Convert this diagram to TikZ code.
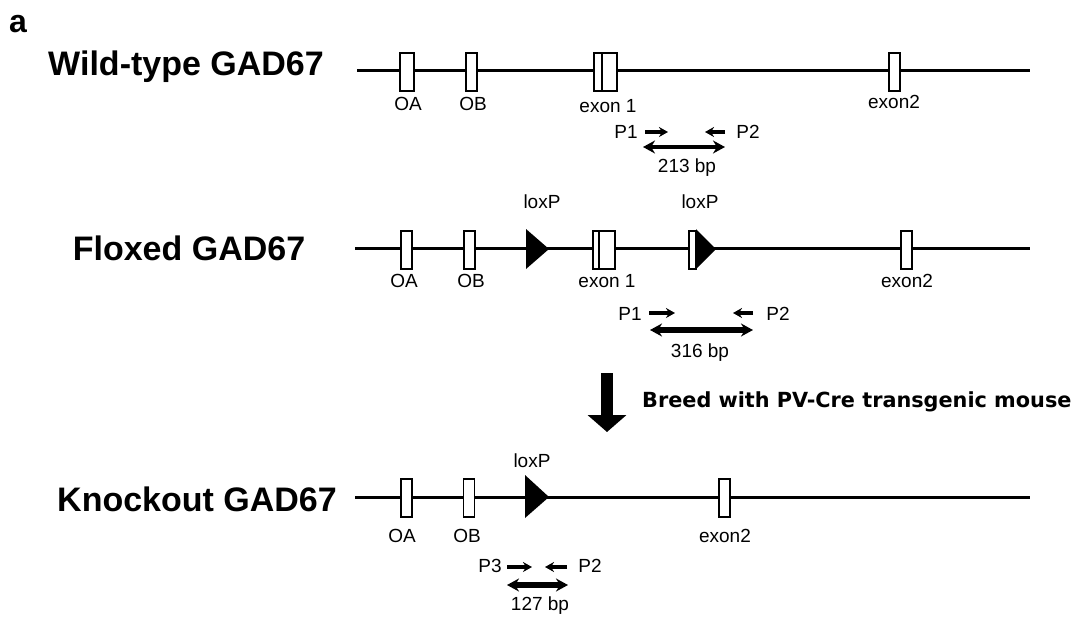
\documentclass[tikz,border=0pt]{standalone}
\usepackage{fontspec}
\setmainfont{Liberation Sans}
\newfontfamily\breedfont{DejaVu Sans}
\usepackage{tikz}
\usetikzlibrary{arrows.meta}

\begin{document}
\begin{tikzpicture}[x=1pt,y=-1pt,
  gene/.style={line width=3pt},
  exonbox/.style={draw,line width=1.8pt,fill=white,minimum height=38pt,inner sep=0pt},
  lbl/.style={font=\fontsize{19}{21}\selectfont,anchor=base,inner sep=0pt},
  title/.style={font=\fontsize{34}{38}\selectfont\bfseries,anchor=base,inner sep=0pt},
  primer/.style={-{Stealth[length=9pt,width=10pt]},line width=3.4pt},
  product/.style={{Stealth[length=12pt,width=13pt]}-{Stealth[length=12pt,width=13pt]}}]
\useasboundingbox (0,0) rectangle (1080,630);
\node[font=\fontsize{32}{36}\selectfont\bfseries,anchor=base,inner sep=0pt] (panel) at (18,32) {a};
% wild-type allele
\begin{scope}[shift={(0,70)}]
\node[title] (wtname) at (186,5) {Wild-type GAD67};
\coordinate (wtL) at (357,0); \coordinate (wtR) at (1030,0);
\draw[gene] (wtL) -- (wtR);
\foreach \n/\x/\w in {OA/407/14,OB/471.5/11.5,exA/598/8,exB/609.5/15,exII/894.5/11.5}
  \node[exonbox,minimum width=\w pt] (wt\n) at (\x,2) {};
\foreach \n/\x/\y/\t in {OA/408/40/OA,OB/473/40/OB,exA/608/42/exon 1,exII/894/38/exon2}
  \node[lbl] (wt\n-t) at (\x,\y) {\t};
% primers P1/P2, 213 bp
\node[lbl] (wtP1) at (626,68) {P1};
\node[lbl] (wtP2) at (748,68) {P2};
\coordinate (wtP1a) at (645,62); \coordinate (wtP1b) at (668,62);
\coordinate (wtP2a) at (725,62); \coordinate (wtP2b) at (705,62);
\draw[primer] (wtP1a) -- (wtP1b);
\draw[primer] (wtP2a) -- (wtP2b);
\coordinate (wtPa) at (643,77); \coordinate (wtPb) at (725,77);
\draw[product,line width=4pt] (wtPa) -- (wtPb);
\node[lbl] (wtbp) at (687,102) {213 bp};
\end{scope}
% floxed allele
\begin{scope}[shift={(0,248)}]
\node[title] (flname) at (189,12) {Floxed GAD67};
\coordinate (flL) at (355,0); \coordinate (flR) at (1030,0);
\draw[gene] (flL) -- (flR);
\foreach \n/\x/\w in {OA/406.5/11.5,OB/469.5/11.5,exA/596/6,exB/607/16,lox/692.5/7,exII/906.5/11.5}
  \node[exonbox,minimum width=\w pt] (fl\n) at (\x,2) {};
\fill (526,-19) -- (549,1) -- (526,21) -- cycle;
\fill (696,-19) -- (716,1) -- (696,21) -- cycle;
\node[lbl] (flloxA-t) at (542,-40) {loxP};
\node[lbl] (flloxB-t) at (700,-40) {loxP};
\foreach \n/\x/\t in {OA/404/OA,OB/471/OB,exA/607/exon 1,exII/907/exon2}
  \node[lbl] (fl\n-t) at (\x,39) {\t};
% primers P1/P2, 316 bp
\node[lbl] (flP1) at (630,72) {P1};
\node[lbl] (flP2) at (778,72) {P2};
\coordinate (flP1a) at (649,65); \coordinate (flP1b) at (675,65);
\coordinate (flP2a) at (753,65); \coordinate (flP2b) at (733,65);
\draw[primer] (flP1a) -- (flP1b);
\draw[primer] (flP2a) -- (flP2b);
\coordinate (flPa) at (650,82); \coordinate (flPb) at (753,82);
\draw[product,line width=6pt] (flPa) -- (flPb);
\node[lbl] (flbp) at (700,109) {316 bp};
\end{scope}
% breeding step
\coordinate (brTop) at (607,373); \coordinate (brTip) at (607,432);
\draw[line width=12pt,-{Triangle[length=17pt,width=38pt]}] (brTop) -- (brTip);
\node[anchor=base west,inner sep=0pt,font=\breedfont\bfseries\fontsize{20.8}{24}\selectfont] (breed) at (642,407) {Breed with PV-Cre transgenic mouse};
% knockout allele
\begin{scope}[shift={(0,497)}]
\node[title] (koname) at (197,14) {Knockout GAD67};
\coordinate (koL) at (355,0); \coordinate (koR) at (1030,0);
\draw[gene] (koL) -- (koR);
\foreach \n/\x/\w in {OA/406.5/11.5,OB/469/11,exII/724.5/11.5}
  \node[exonbox,minimum width=\w pt] (ko\n) at (\x,1) {};
\fill (525,-22) -- (549,0) -- (525,21) -- cycle;
\node[lbl] (kolox-t) at (532,-30) {loxP};
\foreach \n/\x/\t in {OA/402/OA,OB/467/OB,exII/725/exon2}
  \node[lbl] (ko\n-t) at (\x,45) {\t};
% primers P3/P2, 127 bp
\node[lbl] (koP3) at (490,75) {P3};
\node[lbl] (koP2) at (590,75) {P2};
\coordinate (koP3a) at (507,70); \coordinate (koP3b) at (532,70);
\coordinate (koP2a) at (567,70); \coordinate (koP2b) at (545,70);
\draw[primer] (koP3a) -- (koP3b);
\draw[primer] (koP2a) -- (koP2b);
\coordinate (koPa) at (507,88); \coordinate (koPb) at (568,88);
\draw[product,line width=5.5pt] (koPa) -- (koPb);
\node[lbl] (kobp) at (540,113) {127 bp};
\end{scope}
\end{tikzpicture}
\end{document}
